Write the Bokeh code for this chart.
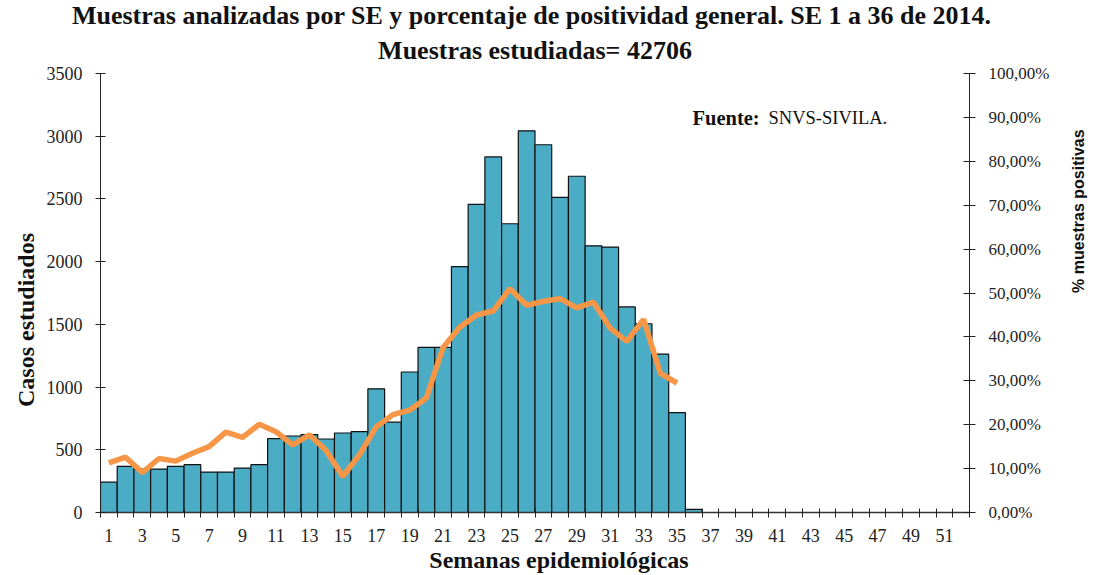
import math
from bokeh.plotting import figure
from bokeh.models import (Range1d, LinearAxis, FixedTicker, Label, Title,
                          ColumnDataSource)
from bokeh.embed import file_html
from bokeh.resources import INLINE

# ---- data ----
weeks = list(range(1, 37))
muestras = [242, 368, 346, 346, 368, 381, 322, 322, 354, 381,
            589, 610, 621, 586, 634, 645, 986, 720, 1120, 1316,
            1316, 1961, 2457, 2835, 2302, 3043, 2932, 2513, 2681, 2126,
            2116, 1639, 1505, 1263, 797, 25]
pct_weeks = list(range(1, 36))
positividad = [11.3, 12.6, 9.1, 12.3, 11.7, 13.5, 15.0, 18.3, 17.1, 20.1,
               18.4, 15.4, 17.7, 14.1, 8.2, 13.2, 19.5, 22.3, 23.3, 26.1,
               37.6, 42.2, 45.0, 45.9, 51.0, 47.2, 48.1, 48.7, 46.6, 47.9,
               42.0, 39.0, 44.0, 31.7, 29.5]
left_ticks = [0, 500, 1000, 1500, 2000, 2500, 3000, 3500]
right_ticks = [0, 10, 20, 30, 40, 50, 60, 70, 80, 90, 100]
x_label_ticks = list(range(1, 52, 2))

W, H = 1098, 575
SERIF = "Liberation Serif"
FL, FB = 100, 512   # frame left / bottom in page pixels
NB = "\u00a0"

p = figure(width=W, height=H, output_backend="svg", toolbar_location=None,
           x_range=Range1d(0.5, 52.5), y_range=Range1d(0, 3500),
           min_border_left=100, min_border_right=129,
           min_border_top=73, min_border_bottom=63)
p.outline_line_color = None
p.xgrid.visible = False
p.ygrid.visible = False
p.background_fill_color = "white"
p.border_fill_color = "white"

p.extra_y_ranges = {"pct": Range1d(0, 100)}

src = ColumnDataSource(dict(x=weeks, top=muestras))
p.vbar(x="x", top="top", width=1.0, source=src, fill_color="#4BACC6",
       line_color="#111111", line_width=1.2)

p.line(pct_weeks, positividad, y_range_name="pct", line_color="#F79646",
       line_width=5.5)

# titles
t2 = Title(text="Muestras estudiadas= 42706", align="center",
           text_font=SERIF, text_font_style="bold", text_font_size="26px",
           text_color="#111111", standoff=18)
t1 = Title(text="Muestras analizadas por SE y porcentaje de positividad general. SE 1 a 36 de  2014.",
           align="center", text_font=SERIF, text_font_style="bold",
           text_font_size="26px", text_color="#111111", standoff=-10)
p.title = None
p.add_layout(t2, "above")
p.add_layout(t1, "above")

# x axis
xa = p.xaxis[0]
xa.ticker = FixedTicker(ticks=x_label_ticks,
                        minor_ticks=[w + 0.5 for w in range(0, 53)])
xa.major_tick_in = 0
xa.major_tick_out = 0
xa.minor_tick_in = 4
xa.minor_tick_out = 5
xa.minor_tick_line_color = "#222222"
xa.axis_line_color = "#333333"
xa.axis_line_width = 1.5
xa.major_label_standoff = 11
xa.major_label_text_font = SERIF
xa.major_label_text_font_size = "18px"
xa.major_label_text_color = "#222222"
xa.axis_label = NB * 8 + "Semanas epidemiológicas"
xa.axis_label_text_font = SERIF
xa.axis_label_text_font_style = "bold"
xa.axis_label_text_font_size = "24px"
xa.axis_label_text_color = "#111111"
xa.axis_label_standoff = 2

# left axis
ya = p.yaxis[0]
ya.ticker = FixedTicker(ticks=left_ticks)
ya.minor_tick_line_color = None
ya.major_tick_in = 5
ya.major_tick_out = 5
ya.major_tick_line_color = "#222222"
ya.axis_line_color = "#222222"
ya.major_label_standoff = 13
ya.major_label_text_font = SERIF
ya.major_label_text_font_size = "18px"
ya.major_label_text_color = "#222222"
ya.axis_label = "Casos estudiados" + NB * 9
ya.axis_label_text_font = SERIF
ya.axis_label_text_font_style = "bold"
ya.axis_label_text_font_size = "24px"
ya.axis_label_text_color = "#111111"
ya.axis_label_standoff = 5

# right axis (ticks and labels)
ra = LinearAxis(y_range_name="pct", ticker=FixedTicker(ticks=right_ticks))
ra.major_label_overrides = {t: f"{t},00%" for t in right_ticks}
ra.minor_tick_line_color = None
ra.major_tick_in = 6
ra.major_tick_out = 6
ra.major_tick_line_color = "#222222"
ra.axis_line_color = "#222222"
ra.major_label_standoff = 13
ra.major_label_text_font = SERIF
ra.major_label_text_font_size = "17px"
ra.major_label_text_color = "#222222"
p.add_layout(ra, "right")

# right-side title carried by a bare axis (no line, no ticks), reading upward
rl = LinearAxis(y_range_name="pct", ticker=FixedTicker(ticks=[]),
                bounds=(0, 47.4))
rl.axis_line_color = None
rl.major_tick_line_color = None
rl.minor_tick_line_color = None
rl.major_label_text_font_size = "0px"
rl.axis_label = "% muestras  positivas"
rl.axis_label_text_font = "Liberation Sans"
rl.axis_label_text_font_style = "bold"
rl.axis_label_text_font_size = "16px"
rl.axis_label_text_color = "#111111"
rl.axis_label_standoff = 26
rl.axis_label_orientation = math.pi / 2
p.add_layout(rl, "right")

# source note inside the frame (page pixels -> frame-relative screen units)
def lab(text, x, y, size, style="bold"):
    p.add_layout(Label(x=x - FL, y=FB - y, x_units="screen", y_units="screen",
                       text=text, text_font=SERIF, text_font_style=style,
                       text_font_size=size, text_align="left",
                       text_baseline="middle", text_color="#111111"))

lab("Fuente:", 692, 117, "20.5px")
lab("SNVS-SIVILA.", 768, 117, "18.5px", style="normal")

open("out.html", "w").write(file_html(p, INLINE))
